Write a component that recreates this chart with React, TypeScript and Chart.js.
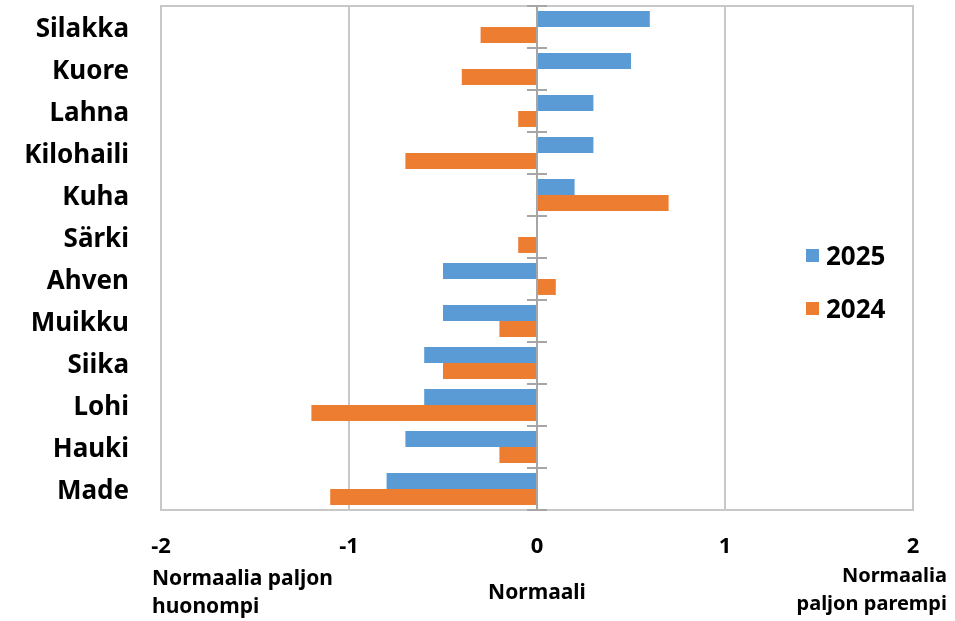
import React, { useEffect, useRef } from "react";
import { Chart, registerables } from "chart.js";

Chart.register(...registerables);

const categories = ["Silakka", "Kuore", "Lahna", "Kilohaili", "Kuha", "Särki", "Ahven", "Muikku", "Siika", "Lohi", "Hauki", "Made"];
const values2025 = [0.6, 0.5, 0.3, 0.3, 0.2, 0, -0.5, -0.5, -0.6, -0.6, -0.7, -0.8];
const values2024 = [-0.3, -0.4, -0.1, -0.7, 0.7, -0.1, 0.1, -0.2, -0.5, -1.2, -0.2, -1.1];
const seriesNames = ["2025", "2024"];
const seriesColors = ["#5B9BD5", "#ED7D31"];
const xMin = -2;
const xMax = 2;
const leftLabel = ["Normaalia paljon", "huonompi"];
const midLabel = "Normaali";
const rightLabel = ["Normaalia", "paljon parempi"];

const FONT = "'Noto Sans', 'Open Sans', sans-serif";

const framePlugin = {
  id: "frame",
  afterDatasetsDraw(chart: any) {
    const { ctx, chartArea, scales } = chart;
    const x = scales.x;
    const y = scales.y;
    ctx.save();
    ctx.strokeStyle = "#c8c8c8";
    ctx.lineWidth = 2;
    ctx.strokeRect(chartArea.left, chartArea.top, chartArea.right - chartArea.left, chartArea.bottom - chartArea.top);
    const x0 = x.getPixelForValue(0);
    ctx.strokeStyle = "#a6a6a6";
    ctx.lineWidth = 2;
    ctx.beginPath();
    ctx.moveTo(x0, chartArea.top);
    ctx.lineTo(x0, chartArea.bottom);
    const n = categories.length;
    const step = n > 1 ? y.getPixelForValue(1) - y.getPixelForValue(0) : chartArea.bottom - chartArea.top;
    for (let i = 0; i <= n; i++) {
      const py = y.getPixelForValue(0) - step / 2 + i * step;
      ctx.moveTo(x0 - 10, py);
      ctx.lineTo(x0 + 10, py);
    }
    ctx.stroke();
    ctx.restore();
  },
};

export default function App() {
  const canvasRef = useRef<HTMLCanvasElement | null>(null);

  useEffect(() => {
    if (!canvasRef.current) return;
    const chart = new Chart(canvasRef.current, {
      type: "bar",
      data: {
        labels: categories,
        datasets: [
          { label: seriesNames[0], data: values2025, backgroundColor: seriesColors[0], borderWidth: 0, barPercentage: 1.0, categoryPercentage: 0.76 },
          { label: seriesNames[1], data: values2024, backgroundColor: seriesColors[1], borderWidth: 0, barPercentage: 1.0, categoryPercentage: 0.76 },
        ],
      },
      options: {
        indexAxis: "y",
        animation: false,
        responsive: true,
        maintainAspectRatio: false,
        layout: { padding: { top: 6, right: 42, bottom: 0, left: 0 } },
        plugins: { legend: { display: false }, tooltip: { enabled: false } },
        scales: {
          x: {
            type: "linear",
            min: xMin,
            max: xMax,
            ticks: { stepSize: 1, color: "#000", padding: 24, font: { family: FONT, size: 22, weight: "bold" } },
            grid: {
              drawTicks: false,
              lineWidth: 2,
              color: (c: any) => (c.tick && c.tick.value === 0 ? "rgba(0,0,0,0)" : "#c8c8c8"),
            },
            border: { display: false },
            afterFit: (s: any) => { s.height = 111; s.paddingLeft = 0; s.paddingRight = 0; },
          },
          y: {
            type: "category",
            ticks: { color: "#000", padding: 32, labelOffset: 3, font: { family: FONT, size: 26, weight: "bold" } },
            grid: { display: false, drawTicks: false },
            border: { display: false },
            afterFit: (s: any) => { s.width = 161; s.paddingTop = 0; s.paddingBottom = 0; },
          },
        },
      },
      plugins: [framePlugin],
    } as any);
    return () => chart.destroy();
  }, []);

  const textStyle: React.CSSProperties = { position: "absolute", fontFamily: FONT, fontWeight: "bold", fontSize: 21, color: "#000", lineHeight: "28px", whiteSpace: "nowrap" };
  const legendText: React.CSSProperties = { position: "absolute", fontFamily: FONT, fontWeight: "bold", fontSize: 26, color: "#000", lineHeight: "30px" };

  return (
    <div style={{ position: "absolute", left: 0, top: 0, width: 955, height: 621, background: "#fff" }}>
      <canvas ref={canvasRef} style={{ width: 955, height: 621 }} />
      <div style={{ ...textStyle, left: 152, top: 563, textAlign: "left" }}>
        {leftLabel[0]}<br />{leftLabel[1]}
      </div>
      <div style={{ ...textStyle, left: 437, width: 200, top: 577, textAlign: "center" }}>{midLabel}</div>
      <div style={{ ...textStyle, right: 8, top: 561, textAlign: "right", fontSize: 20 }}>
        {rightLabel[0]}<br />{rightLabel[1]}
      </div>
      {seriesNames.map((name, i) => (
        <div key={name} style={{ position: "absolute", left: 806, top: 240 + i * 53, height: 30 }}>
          <div style={{ position: "absolute", left: 0, top: 9, width: 13, height: 13, background: seriesColors[i] }} />
          <div style={{ ...legendText, left: 20, top: 0 }}>{name}</div>
        </div>
      ))}
    </div>
  );
}
